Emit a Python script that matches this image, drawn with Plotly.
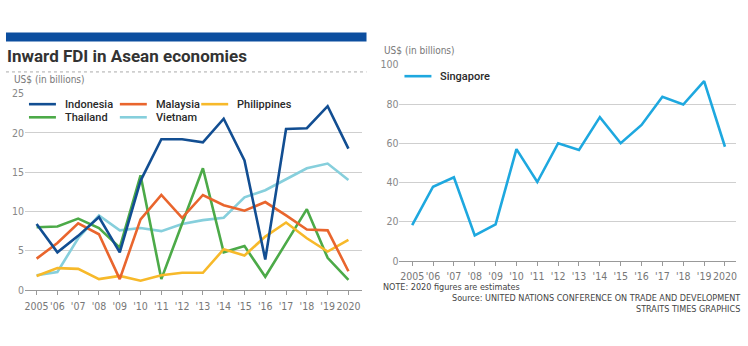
import plotly.graph_objects as go

W, H = 748, 346

years = list(range(2005, 2021))
year_labels = ["2005", "'06", "'07", "'08", "'09", "'10", "'11", "'12", "'13",
               "'14", "'15", "'16", "'17", "'18", "'19", "2020"]

indonesia = [8.4, 4.8, 6.9, 9.3, 4.8, 13.9, 19.2, 19.2, 18.8, 21.8, 16.5, 3.9, 20.5, 20.6, 23.4, 18.0]
malaysia = [4.0, 6.0, 8.5, 7.1, 1.4, 9.0, 12.1, 9.2, 12.1, 10.8, 10.1, 11.2, 9.5, 7.7, 7.6, 2.4]
philippines = [1.8, 2.8, 2.7, 1.4, 1.8, 1.2, 1.9, 2.2, 2.2, 5.2, 4.4, 6.8, 8.6, 6.6, 4.9, 6.4]
thailand = [8.0, 8.1, 9.1, 7.9, 5.4, 14.6, 1.4, 8.5, 15.5, 4.8, 5.6, 1.7, 6.0, 10.3, 4.1, 1.3]
vietnam = [1.9, 2.3, 6.6, 9.5, 7.6, 7.9, 7.5, 8.4, 8.9, 9.2, 11.8, 12.7, 14.1, 15.5, 16.1, 14.0]
singapore = [18.2, 37.8, 42.6, 13.0, 18.6, 57.0, 40.2, 60.0, 56.6, 73.3, 60.0, 69.3, 83.7, 79.7, 91.7, 58.2]

left_series = [
    ("Vietnam", vietnam, "#86cfdc"),
    ("Thailand", thailand, "#4caa48"),
    ("Philippines", philippines, "#f7b92a"),
    ("Malaysia", malaysia, "#e9652d"),
    ("Indonesia", indonesia, "#124e92"),
]
sg_color = "#1ea8df"

NARROW = "DejaVu Sans Condensed, Liberation Sans Narrow, sans-serif"
TITLE_FONT = "Roboto, Liberation Sans, Arial, sans-serif"

def px(x):
    return x / W

def py(y):
    return 1 - y / H

fig = go.Figure()
for name, vals, col in left_series:
    fig.add_trace(go.Scatter(x=years, y=vals, mode="lines", name=name,
                             line=dict(color=col, width=2.6), showlegend=False,
                             xaxis="x", yaxis="y"))
fig.add_trace(go.Scatter(x=years, y=singapore, mode="lines", name="Singapore",
                         line=dict(color=sg_color, width=2.6), showlegend=False,
                         xaxis="x2", yaxis="y2"))

xcommon = dict(tickmode="array", tickvals=years, ticktext=year_labels, tickangle=0,
               ticks="outside", ticklen=4, tickcolor="#999", showline=True,
               linecolor="#999", linewidth=1, showgrid=False, zeroline=False,
               ticklabelstandoff=2,
               tickfont=dict(family=NARROW, size=10.5, color="#777"), fixedrange=True)
ycommon = dict(showgrid=True, gridcolor="#cfcfcf", gridwidth=1, zeroline=False,
               showline=False, ticks="",
               tickfont=dict(family=NARROW, size=10.5, color="#888"), fixedrange=True)

fig.update_layout(
    width=W, height=H, margin=dict(l=0, r=0, t=0, b=0),
    paper_bgcolor="white", plot_bgcolor="white", showlegend=False,
    xaxis=dict(domain=[px(25), px(362)], range=[2004.44, 2020.63], anchor="y", **xcommon),
    yaxis=dict(domain=[py(294.3), py(90.5)], range=[0, 25.03], dtick=5, anchor="x", **ycommon),
    xaxis2=dict(domain=[px(400), px(737)], range=[2004.39, 2020.53], anchor="y2", **xcommon),
    yaxis2=dict(domain=[py(264), py(60.7)], range=[0, 100.1], dtick=20, anchor="x2", **ycommon),
)

shapes = [
    dict(type="rect", xref="paper", yref="paper", x0=px(6), x1=px(367), y0=py(36.7), y1=py(27.5),
         fillcolor="#0c4e9f", line=dict(width=0)),
    dict(type="line", xref="paper", yref="paper", x0=px(6), x1=px(367), y0=py(68.3), y1=py(68.3),
         line=dict(color="#aaa", width=1, dash="dot")),
]
annotations = [
    dict(text="<b>Inward FDI in Asean economies</b>", x=px(5), y=py(51.5), xref="paper", yref="paper",
         xanchor="left", yanchor="middle", showarrow=False,
         font=dict(family=TITLE_FONT, size=17, color="#333")),
    dict(text="US$ (in billions)", x=px(12), y=py(76), xref="paper", yref="paper",
         xanchor="left", yanchor="middle", showarrow=False,
         font=dict(family=NARROW, size=10, color="#777")),
    dict(text="US$ (in billions)", x=px(383), y=py(45.7), xref="paper", yref="paper",
         xanchor="left", yanchor="middle", showarrow=False,
         font=dict(family=NARROW, size=10, color="#777")),
    dict(text="NOTE: 2020 figures are estimates", x=px(382), y=py(291), xref="paper", yref="paper",
         xanchor="left", yanchor="middle", showarrow=False,
         font=dict(family=NARROW, size=9, color="#444")),
    dict(text="Source: UNITED NATIONS CONFERENCE ON TRADE AND DEVELOPMENT", x=px(743), y=py(302.7),
         xref="paper", yref="paper", xanchor="right", yanchor="middle", showarrow=False,
         font=dict(family=NARROW, size=9, color="#444")),
    dict(text="STRAITS TIMES GRAPHICS", x=px(743), y=py(314), xref="paper", yref="paper",
         xanchor="right", yanchor="middle", showarrow=False,
         font=dict(family=NARROW, size=9, color="#444")),
]

# manual legends
color_of = {n: c for n, _, c in left_series}
legend_items = [
    ("Indonesia", 29, 101.7), ("Malaysia", 120, 101.7), ("Philippines", 201.5, 101.7),
    ("Thailand", 29, 115.3), ("Vietnam", 120, 115.3),
]
LEG_FONT = dict(family=TITLE_FONT, size=11, color="#2a2a2a", weight=500)
for name, x0, y0 in legend_items:
    shapes.append(dict(type="line", xref="paper", yref="paper", x0=px(x0), x1=px(x0 + 27),
                       y0=py(y0), y1=py(y0), line=dict(color=color_of[name], width=2.6)))
    annotations.append(dict(text=name, x=px(x0 + 34), y=py(y0), xref="paper", yref="paper",
                            xanchor="left", yanchor="middle", showarrow=False, font=LEG_FONT))
shapes.append(dict(type="line", xref="paper", yref="paper", x0=px(405), x1=px(432),
                   y0=py(72.7), y1=py(72.7), line=dict(color=sg_color, width=2.6)))
annotations.append(dict(text="Singapore", x=px(439), y=py(72.7), xref="paper", yref="paper",
                        xanchor="left", yanchor="middle", showarrow=False, font=LEG_FONT))

fig.update_layout(shapes=shapes, annotations=annotations)
fig.write_html("out.html")
